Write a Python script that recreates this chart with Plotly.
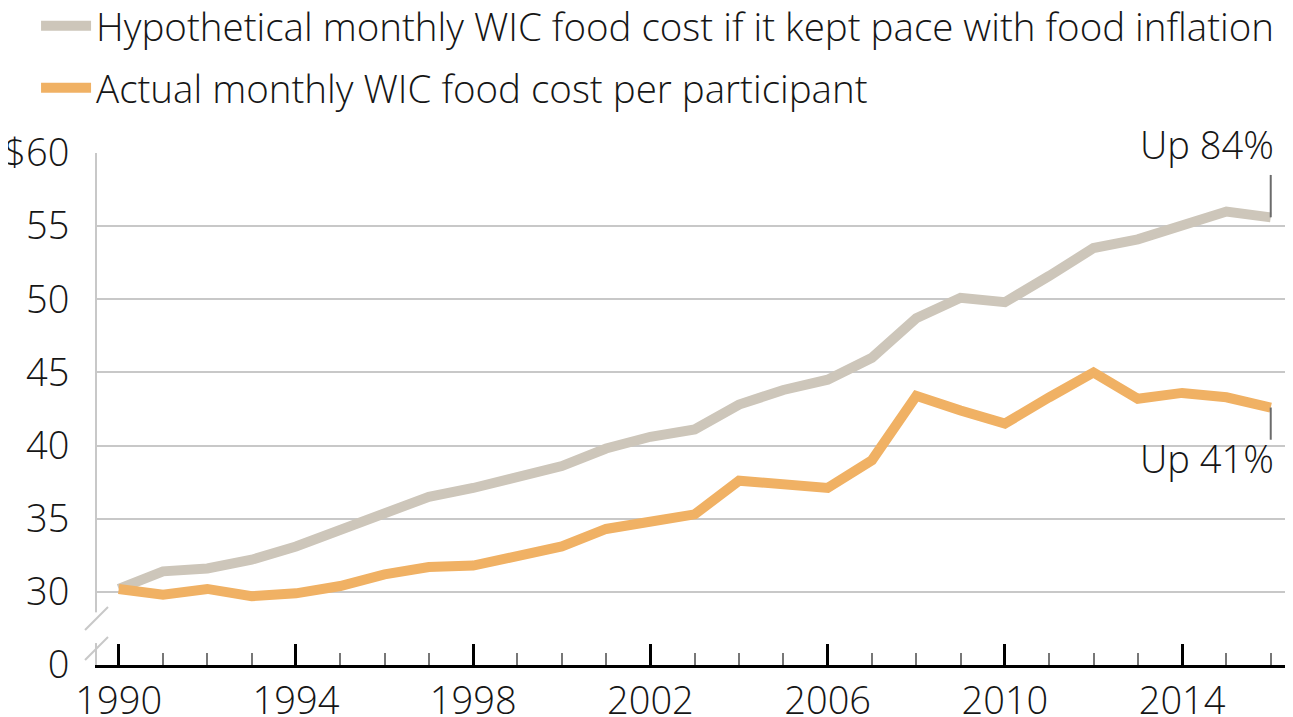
import plotly.graph_objects as go

years = list(range(1990, 2017))
hypothetical = [30.2, 31.4, 31.6, 32.2, 33.1, 34.2, 35.3, 36.5, 37.1, 37.8, 38.6, 39.8, 40.6, 41.1,
                42.8, 43.8, 44.5, 46.0, 48.7, 50.1, 49.8, 51.6, 53.5, 54.1, 55.0, 56.0, 55.6]
actual = [30.2, 29.8, 30.2, 29.7, 29.9, 30.4, 31.2, 31.7, 31.8, 32.5, 33.1, 34.3, 34.8, 35.3,
          37.6, 37.4, 37.1, 39.0, 43.4, 42.4, 41.5, 43.3, 45.0, 43.2, 43.6, 43.3, 42.6]
names = ["Hypothetical monthly WIC food cost if it kept pace with food inflation",
         "Actual monthly WIC food cost per participant"]
ytick_vals = [25, 30, 35, 40, 45, 50, 55, 60]
ytick_text = ["0", "30", "35", "40", "45", "50", "55", "$60"]
xtick_vals = [1990, 1994, 1998, 2002, 2006, 2010, 2014]
labels = ["Up 84%", "Up 41%"]

GRAY = "#CDC6BA"
ORANGE = "#F0B164"
FONT = "Open Sans"
TXT = "#161616"

fig = go.Figure()
fig.add_trace(go.Scatter(x=years, y=hypothetical, name=names[0], mode="lines",
                         line=dict(color=GRAY, width=10), legendgroup="a"))
fig.add_trace(go.Scatter(x=years, y=actual, name=names[1], mode="lines",
                         line=dict(color=ORANGE, width=10), legendgroup="b"))

# white patches hiding the gridlines behind the end labels
for yv in (60, 40):
    fig.add_shape(type="rect", xref="paper", yref="y", x0=0.852, x1=1.0, y0=yv - 0.6, y1=yv + 0.6,
                  fillcolor="white", line=dict(width=0), layer="between")

# leader lines
fig.add_shape(type="line", xref="x", yref="y", x0=years[-1], x1=years[-1],
              y0=hypothetical[-1], y1=hypothetical[-1] + 2.9, line=dict(color="#6b6b6b", width=2))
fig.add_shape(type="line", xref="x", yref="y", x0=years[-1], x1=years[-1],
              y0=actual[-1], y1=actual[-1] - 2.2, line=dict(color="#6b6b6b", width=2))

# axis break
fig.add_shape(type="rect", xref="paper", yref="y", x0=-0.004, x1=0.004, y0=26.5, y1=28.6,
              fillcolor="white", line=dict(width=0), layer="above")
fig.add_shape(type="line", xref="paper", yref="y", x0=-0.010, x1=0.0092, y0=27.39, y1=28.96,
              line=dict(color="#c8c8c8", width=2), layer="above")
fig.add_shape(type="line", xref="paper", yref="y", x0=-0.010, x1=0.0092, y0=25.34, y1=26.91,
              line=dict(color="#c8c8c8", width=2), layer="above")

fig.add_annotation(x=years[-1], y=60, xref="x", yref="y", text=labels[0], showarrow=False,
                   xanchor="right", yanchor="middle", xshift=5, yshift=9,
                   font=dict(size=38, color=TXT, family=FONT, weight=300))
fig.add_annotation(x=years[-1], y=40, xref="x", yref="y", text=labels[1], showarrow=False,
                   xanchor="right", yanchor="middle", xshift=5, yshift=-12,
                   font=dict(size=38, color=TXT, family=FONT, weight=300))

fig.update_layout(
    width=1285, height=709,
    margin=dict(l=89, r=1, t=145, b=52, autoexpand=False),
    plot_bgcolor="white", paper_bgcolor="white",
    font=dict(family=FONT, color=TXT, weight=300),
    showlegend=True,
    legend=dict(x=-0.051, xanchor="left", y=1.31, yanchor="top",
                font=dict(size=38.5, family=FONT, color=TXT, weight=300),
                itemwidth=50, tracegroupgap=9, bgcolor="rgba(0,0,0,0)"),
    xaxis=dict(range=[1989.51, 2016.48], tickvals=xtick_vals, ticks="inside", ticklen=21,
               tickwidth=3, tickcolor="black", showline=True, linecolor="black", linewidth=3,
               showgrid=False, zeroline=False, automargin=False,
               tickfont=dict(size=38, family=FONT, color=TXT, weight=300),
               minor=dict(dtick=1, tick0=1990, ticks="inside", ticklen=12, tickwidth=2,
                          tickcolor="#777", showgrid=False)),
    yaxis=dict(range=[25, 60], tickvals=ytick_vals, ticktext=ytick_text, ticks="",
               showline=True, linecolor="#c8c8c8", linewidth=2, showgrid=True,
               gridcolor="#c8c8c8", gridwidth=2, zeroline=False, ticklabelstandoff=18,
               automargin=False,
               tickfont=dict(size=38, family=FONT, color=TXT, weight=300)),
)

fig.write_html("out.html")
